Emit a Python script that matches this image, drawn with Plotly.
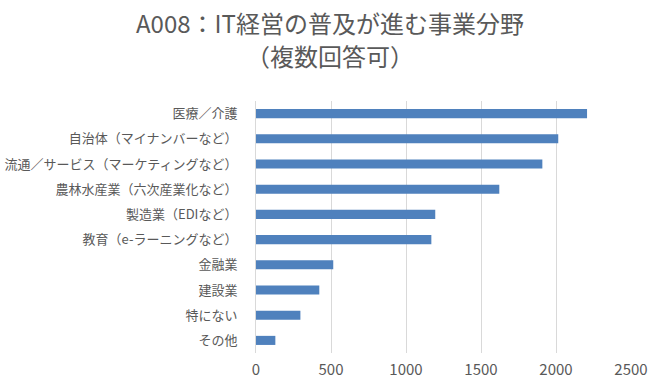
import plotly.graph_objects as go

categories = [
    "医療／介護",
    "自治体（マイナンバーなど）",
    "流通／サービス（マーケティングなど）",
    "農林水産業（六次産業化など）",
    "製造業（EDIなど）",
    "教育（e-ラーニングなど）",
    "金融業",
    "建設業",
    "特にない",
    "その他",
]
values = [2207, 2015, 1909, 1622, 1195, 1169, 515, 422, 296, 129]
x_ticks = [0, 500, 1000, 1500, 2000, 2500]
title_line1 = "A008：IT経営の普及が進む事業分野"
title_line2 = "（複数回答可）"

FONT = "Noto Sans CJK JP"
GRAY = "#595959"
W, H = 660, 387
ML, MR, MT, MB = 256, 29, 101, 34.3

fig = go.Figure(
    go.Bar(
        x=values,
        y=categories,
        orientation="h",
        marker=dict(color="#4F81BD", line=dict(width=0)),
        hoverinfo="x+y",
    )
)

plot_w = W - ML - MR
plot_h = H - MT - MB


def px_to_paper(px, py):
    return (px - ML) / plot_w, (H - MB - py) / plot_h


t1x, t1y = px_to_paper(330, 23)
t2x, t2y = px_to_paper(330, 56)

fig.update_layout(
    width=W,
    height=H,
    margin=dict(l=ML, r=MR, t=MT, b=MB, autoexpand=False),
    paper_bgcolor="white",
    plot_bgcolor="white",
    bargap=0.64,
    showlegend=False,
    font=dict(family=FONT, color=GRAY),
    annotations=[
        dict(text=title_line1, x=t1x, y=t1y, xref="paper", yref="paper",
             xanchor="center", yanchor="middle",
             showarrow=False, font=dict(size=24, color=GRAY, family=FONT)),
        dict(text=title_line2, x=t2x, y=t2y, xref="paper", yref="paper",
             xanchor="center", yanchor="middle",
             showarrow=False, font=dict(size=24, color=GRAY, family=FONT)),
    ],
)

fig.update_xaxes(
    range=[0, 2500],
    tickvals=x_ticks,
    ticktext=[str(v) for v in x_ticks],
    showgrid=True,
    gridcolor="#D9D9D9",
    gridwidth=1,
    zeroline=False,
    showline=False,
    ticks="",
    tickfont=dict(size=15, color=GRAY, family=FONT),
    ticklabelstandoff=6,
    automargin=False,
    fixedrange=True,
)
fig.update_yaxes(
    categoryorder="array",
    categoryarray=categories,
    autorange="reversed",
    showgrid=False,
    zeroline=False,
    showline=True,
    linecolor="#D9D9D9",
    linewidth=1,
    ticks="",
    tickfont=dict(size=13, color=GRAY, family=FONT),
    ticklabelstandoff=15,
    automargin=False,
    fixedrange=True,
)

# remove the browser's default 8px body margin so the figure fills the window
fig.write_html(
    "out.html",
    config={"displayModeBar": False},
    post_script="document.body.style.margin='0';document.body.style.overflow='hidden';",
)
